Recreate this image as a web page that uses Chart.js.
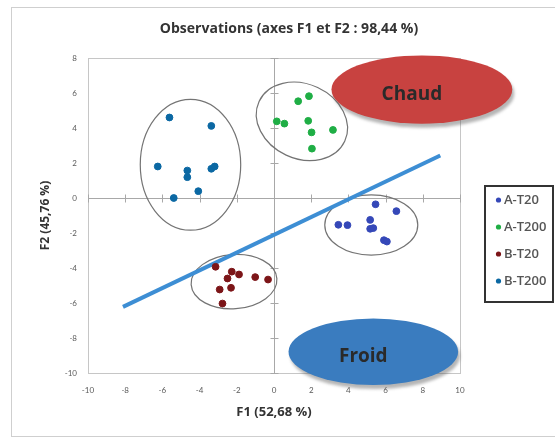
<!DOCTYPE html>
<html lang="fr">
<head>
    <meta charset="UTF-8">
    <title>Observations (axes F1 et F2)</title>
    <script src="https://cdn.jsdelivr.net/npm/chart.js"></script>
    <style>
        html, body {
            margin: 0;
            padding: 0;
            background: #ffffff;
        }

        #wrap {
            width: 555px;
            height: 439px;
        }
    </style>
</head>
<body>
<div id="wrap">
    <canvas id="obsChart" width="555" height="439"></canvas>
</div>

<script>
    // observations (F1, F2)
    const seriesNames = ['A-T20', 'A-T200', 'B-T20', 'B-T200'];
    const seriesColors = ['#3548b8', '#1fae45', '#7c1518', '#0b68a3'];

    const aT20 = [
        {x: 5.46, y: -0.36}, {x: 6.58, y: -0.75}, {x: 3.46, y: -1.53},
        {x: 3.95, y: -1.55}, {x: 5.17, y: -1.25}, {x: 5.17, y: -1.76},
        {x: 5.34, y: -1.72}, {x: 5.91, y: -2.41}, {x: 6.07, y: -2.49}
    ];
    const aT200 = [
        {x: 1.88, y: 5.82}, {x: 1.30, y: 5.53}, {x: 0.15, y: 4.38},
        {x: 0.56, y: 4.25}, {x: 1.84, y: 4.41}, {x: 2.02, y: 3.75},
        {x: 3.17, y: 3.89}, {x: 2.04, y: 2.82}
    ];
    const bT20 = [
        {x: -3.14, y: -3.93}, {x: -2.27, y: -4.21}, {x: -1.88, y: -4.37},
        {x: -2.50, y: -4.60}, {x: -1.01, y: -4.52}, {x: -0.32, y: -4.66},
        {x: -2.92, y: -5.23}, {x: -2.31, y: -5.13}, {x: -2.77, y: -6.03}
    ];
    const bT200 = [
        {x: -5.62, y: 4.60}, {x: -3.37, y: 4.12}, {x: -6.25, y: 1.80},
        {x: -4.66, y: 1.57}, {x: -4.66, y: 1.19}, {x: -3.37, y: 1.67},
        {x: -3.19, y: 1.80}, {x: -4.07, y: 0.39}, {x: -5.39, y: 0.00}
    ];

    // separating line drawn on the plot
    const splitLine = [{x: -8.12, y: -6.22}, {x: 8.94, y: 2.43}];

    // cluster ellipses: centre, radii (axis units), tilt in degrees
    const clusterEllipses = [
        {cx: -4.49, cy: 1.90, rx: 2.70, ry: 3.74, rot: 0},
        {cx: 1.50, cy: 4.38, rx: 2.54, ry: 2.13, rot: 25},
        {cx: -2.15, cy: -4.78, rx: 2.31, ry: 1.55, rot: -4},
        {cx: 5.23, cy: -1.54, rx: 2.50, ry: 1.72, rot: 0}
    ];

    // labelled zones
    const zoneLabels = ['Chaud', 'Froid'];
    const zoneShapes = [
        {cx: 7.95, cy: 6.20, rx: 4.86, ry: 1.95},
        {cx: 5.34, cy: -8.79, rx: 4.56, ry: 1.90}
    ];
    const zoneColors = ['#c84240', '#3a7cbf'];

    const xTicks = [-10, 10, 2];
    const yTicks = [-10, 8, 2];

    const chartTitle = 'Observations (axes F1 et F2 : 98,44 %)';

    const FONT = '"Open Sans", Lato, sans-serif';
    const TICK_FONT = 'Lato, "Open Sans", sans-serif';

    function ellipsePath(ctx, x, y, rx, ry, rot) {
        ctx.beginPath();
        ctx.ellipse(x, y, rx, ry, rot * Math.PI / 180, 0, Math.PI * 2);
    }

    const decorPlugin = {
        id: 'decor',
        beforeDatasetsDraw(chart) {
            const ctx = chart.ctx;
            const a = chart.chartArea;
            const xs = chart.scales.x;
            const ys = chart.scales.y;
            ctx.save();
            // plot frame
            ctx.strokeStyle = '#c6c6c6';
            ctx.lineWidth = 1;
            ctx.strokeRect(a.left + 0.5, a.top + 0.5, a.right - a.left, a.bottom - a.top);

            // axes through the origin with cross tick marks
            const x0 = Math.round(xs.getPixelForValue(0)) + 0.5;
            const y0 = Math.round(ys.getPixelForValue(0)) + 0.5;
            ctx.strokeStyle = '#a8a8a8';
            ctx.beginPath();
            ctx.moveTo(x0, a.top);
            ctx.lineTo(x0, a.bottom);
            ctx.moveTo(a.left, y0);
            ctx.lineTo(a.right, y0);
            for (let v = xTicks[0]; v <= xTicks[1]; v += xTicks[2]) {
                const px = Math.round(xs.getPixelForValue(v)) + 0.5;
                ctx.moveTo(px, y0 - 4);
                ctx.lineTo(px, y0 + 4);
            }
            for (let v = yTicks[0]; v <= yTicks[1]; v += yTicks[2]) {
                const py = Math.round(ys.getPixelForValue(v)) + 0.5;
                ctx.moveTo(x0 - 4, py);
                ctx.lineTo(x0 + 4, py);
            }
            ctx.stroke();

            // cluster ellipses
            ctx.strokeStyle = '#747474';
            ctx.lineWidth = 1.2;
            clusterEllipses.forEach(e => {
                const cx = xs.getPixelForValue(e.cx);
                const cy = ys.getPixelForValue(e.cy);
                const rx = Math.abs(xs.getPixelForValue(e.cx + e.rx) - cx);
                const ry = Math.abs(ys.getPixelForValue(e.cy + e.ry) - cy);
                ellipsePath(ctx, cx, cy, rx, ry, e.rot);
                ctx.stroke();
            });
            ctx.restore();
        },
        afterDraw(chart) {
            const ctx = chart.ctx;
            const xs = chart.scales.x;
            const ys = chart.scales.y;
            ctx.save();

            // title, centred on the outer frame rather than the plot
            ctx.fillStyle = '#333333';
            ctx.font = 'bold 14px ' + FONT;
            ctx.textAlign = 'center';
            ctx.textBaseline = 'middle';
            ctx.fillText(chartTitle, 289, 29);

            // Chaud / Froid zones
            zoneShapes.forEach((z, i) => {
                const cx = xs.getPixelForValue(z.cx);
                const cy = ys.getPixelForValue(z.cy);
                const rx = Math.abs(xs.getPixelForValue(z.cx + z.rx) - cx);
                const ry = Math.abs(ys.getPixelForValue(z.cy + z.ry) - cy);
                // soft shadow
                ctx.fillStyle = 'rgba(90, 90, 90, 0.45)';
                ctx.filter = 'blur(1.5px)';
                ellipsePath(ctx, cx + 2, cy + 4, rx, ry, 0);
                ctx.fill();
                ctx.filter = 'none';
                ctx.fillStyle = zoneColors[i];
                ellipsePath(ctx, cx, cy, rx, ry, 0);
                ctx.fill();
                ctx.fillStyle = '#2a2a2a';
                ctx.font = 'bold 19px ' + FONT;
                ctx.textAlign = 'center';
                ctx.textBaseline = 'middle';
                ctx.fillText(zoneLabels[i], cx - 10, cy + 5);
            });

            // legend box
            ctx.strokeStyle = '#333333';
            ctx.lineWidth = 2;
            ctx.strokeRect(485, 186, 68, 116);
            ctx.font = '600 13px ' + FONT;
            ctx.textAlign = 'left';
            ctx.textBaseline = 'middle';
            seriesNames.forEach((name, i) => {
                const y = 200 + i * 27;
                ctx.fillStyle = seriesColors[i];
                ctx.beginPath();
                ctx.arc(498.5, y, 2.6, 0, Math.PI * 2);
                ctx.fill();
                ctx.fillStyle = '#555555';
                ctx.fillText(name, 504, y);
            });

            // outer chart frame
            ctx.strokeStyle = '#cfcfcf';
            ctx.lineWidth = 1;
            ctx.strokeRect(11.5, 7.5, 560, 429);
            ctx.restore();
        }
    };

    const pointSet = (label, data, color) => ({
        label: label,
        data: data,
        backgroundColor: color,
        borderColor: color,
        pointRadius: 3.4,
        pointHoverRadius: 4
    });

    new Chart(document.getElementById('obsChart').getContext('2d'), {
        type: 'scatter',
        data: {
            datasets: [
                pointSet(seriesNames[0], aT20, seriesColors[0]),
                pointSet(seriesNames[1], aT200, seriesColors[1]),
                pointSet(seriesNames[2], bT20, seriesColors[2]),
                pointSet(seriesNames[3], bT200, seriesColors[3]),
                {
                    label: 'split',
                    data: splitLine,
                    showLine: true,
                    borderColor: '#3d8ed4',
                    borderWidth: 4,
                    pointRadius: 0,
                    borderCapStyle: 'butt'
                }
            ]
        },
        options: {
            responsive: false,
            animation: false,
            layout: {
                padding: {left: 36, right: 95, top: 58, bottom: 14}
            },
            plugins: {
                legend: {display: false},
                tooltip: {enabled: false},
                title: {display: false}
            },
            scales: {
                x: {
                    type: 'linear',
                    min: xTicks[0],
                    max: xTicks[1],
                    grid: {display: false, drawTicks: false},
                    border: {display: false},
                    ticks: {
                        stepSize: xTicks[2],
                        padding: 13,
                        color: '#595959',
                        font: {family: TICK_FONT, size: 8}
                    },
                    title: {
                        display: true,
                        text: 'F1 (52,68 %)',
                        color: '#333333',
                        font: {family: FONT, size: 13, weight: 'bold'},
                        padding: {top: 4, bottom: 5}
                    },
                    afterFit: function (scale) {
                        scale.height = 52;
                    }
                },
                y: {
                    type: 'linear',
                    min: yTicks[0],
                    max: yTicks[1],
                    grid: {display: false, drawTicks: false},
                    border: {display: false},
                    ticks: {
                        stepSize: yTicks[2],
                        padding: 11,
                        color: '#595959',
                        font: {family: TICK_FONT, size: 8}
                    },
                    title: {
                        display: true,
                        text: 'F2 (45,76 %)',
                        color: '#333333',
                        font: {family: FONT, size: 12, weight: 'bold'},
                        padding: {top: 2, bottom: 4}
                    },
                    afterFit: function (scale) {
                        scale.width = 52;
                    }
                }
            }
        },
        plugins: [decorPlugin]
    });
</script>
</body>
</html>
